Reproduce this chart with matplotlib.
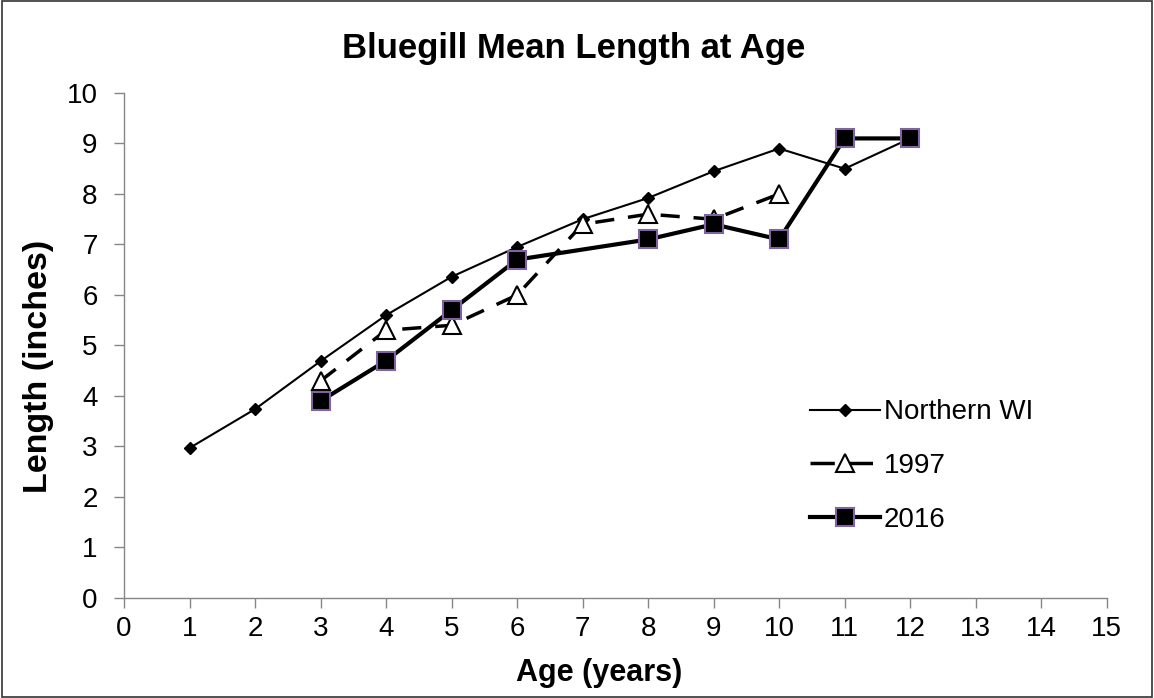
import matplotlib.pyplot as plt
from matplotlib.patches import Rectangle

plt.rcParams['font.family'] = ['Liberation Sans', 'DejaVu Sans']

# Data
ages_nwi = [1, 2, 3, 4, 5, 6, 7, 8, 9, 10, 11, 12]
len_nwi = [2.97, 3.74, 4.69, 5.6, 6.36, 6.95, 7.5, 7.92, 8.45, 8.9, 8.5, 9.1]

ages_1997 = [3, 4, 5, 6, 7, 8, 9, 10]
len_1997 = [4.3, 5.3, 5.4, 6.0, 7.4, 7.6, 7.5, 8.0]

ages_2016 = [3, 4, 5, 6, 8, 9, 10, 11, 12]
len_2016 = [3.9, 4.7, 5.7, 6.7, 7.1, 7.4, 7.1, 9.1, 9.1]

fig = plt.figure(figsize=(11.54, 6.98), dpi=100)
ax = fig.add_axes([0.1075, 0.1433, 0.8515, 0.7235])

ax.plot(ages_nwi, len_nwi, color='black', linewidth=1.5, marker='D',
        markersize=6, label='Northern WI', zorder=3)
ax.plot(ages_1997, len_1997, color='black', linewidth=2.5, linestyle=(0, (5.5, 4)),
        marker='^', markersize=13, markerfacecolor='white',
        markeredgecolor='black', markeredgewidth=1.5, label='1997', zorder=4)
ax.plot(ages_2016, len_2016, color='black', linewidth=3, marker='s',
        markersize=12.5, markerfacecolor='black', markeredgecolor='#8064a2',
        markeredgewidth=1.5, label='2016', zorder=5)

ax.set_xlim(0, 15)
ax.set_ylim(0, 10)
ax.set_xticks(range(0, 16))
ax.set_yticks(range(0, 11))
ax.tick_params(labelsize=20, direction='out', length=7, width=1, color='#868686')
ax.tick_params(axis='x', pad=6)
ax.tick_params(axis='y', pad=12)
for s in ['top', 'right']:
    ax.spines[s].set_visible(False)
for s in ['left', 'bottom']:
    ax.spines[s].set_linewidth(1)
    ax.spines[s].set_color('#868686')

fig.text(0.497, 0.917, 'Bluegill Mean Length at Age', fontsize=25,
         fontweight='bold', ha='center', va='baseline')
ax.set_xlabel('Age (years)', fontsize=22, fontweight='bold')
ax.set_ylabel('Length (inches)', fontsize=24.5, fontweight='bold')
ax.xaxis.set_label_coords(0.483, -0.118)
ax.yaxis.set_label_coords(-0.071, 0.459)

leg = fig.legend(*ax.get_legend_handles_labels(), loc='upper left',
                 bbox_to_anchor=(0.702, 0.428), frameon=False, fontsize=20,
                 handlelength=2.5, handletextpad=0.15, labelspacing=1.0,
                 borderpad=0, borderaxespad=0)
leg.legend_handles[1].set_linestyle((0, (7, 4)))

fig.patches.append(Rectangle((0.002, 0.002), 0.996, 0.996, transform=fig.transFigure,
                             fill=False, edgecolor='#333333', linewidth=1.2))

fig.savefig('out.png', dpi=100)
